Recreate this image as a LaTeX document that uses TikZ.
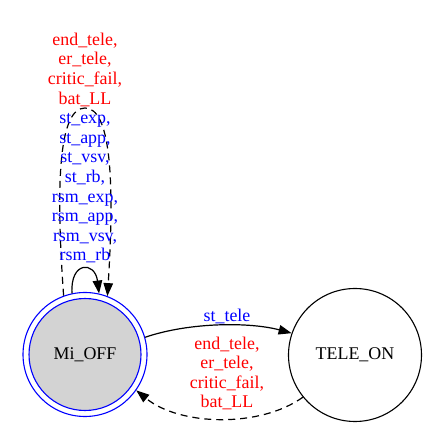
\documentclass[tikz,border=0pt]{standalone}
\usepackage{fontspec}
\setmainfont{Liberation Serif}
\usetikzlibrary{arrows.meta}
\definecolor{gvred}{RGB}{255,0,0}
\definecolor{gvblue}{RGB}{0,0,255}
\definecolor{gvgray}{RGB}{211,211,211}
\begin{document}
\begin{tikzpicture}[x=1pt,y=1pt,
  every node/.style={font=\fontsize{17.9}{19.6}\selectfont},
  edge/.style={line width=1.2pt,-{Triangle[length=13pt,width=9.5pt]}},
  dashedge/.style={edge,dash pattern=on 7pt off 5pt},
  lbl/.style={align=center,inner sep=0pt}]
\useasboundingbox (0,0) rectangle (426,426);
% Mi_OFF state (double circle)
\node[circle,draw=gvblue,line width=1.1pt,minimum size=124pt,inner sep=0pt] (off) at (85,71.5) {};
\node[circle,draw=gvblue,fill=gvgray,line width=1.1pt,minimum size=112pt,inner sep=0pt] (offin) at (85,71.5) {Mi\_OFF};
% TELE_ON state
\node[circle,draw=black,line width=1.1pt,minimum size=133pt,inner sep=0pt] (tele) at (355,71) {TELE\_ON};
% self loops
\draw[edge] (off.102) .. controls (70,165) and (95,165) .. (off.77);
\draw[dashedge] (off.110) .. controls (55,250) and (60,318) .. (85,318) .. controls (110,318) and (115,250) .. (off.69);
\node[lbl] (looplbl) at (85,278) {\textcolor{gvred}{end\_tele,}\\\textcolor{gvred}{er\_tele,}\\\textcolor{gvred}{critic\_fail,}\\\textcolor{gvred}{bat\_LL}\\\textcolor{gvblue}{st\_exp,}\\\textcolor{gvblue}{st\_app,}\\\textcolor{gvblue}{st\_vsv,}\\\textcolor{gvblue}{st\_rb,}\\\textcolor{gvblue}{rsm\_exp,}\\\textcolor{gvblue}{rsm\_app,}\\\textcolor{gvblue}{rsm\_vsv,}\\\textcolor{gvblue}{rsm\_rb}};
% transitions
\draw[edge] (off.16) .. controls (190,104) and (250,104) .. (tele.161);
\node[lbl,text=gvblue] (stlbl) at (227,110) {st\_tele};
\draw[dashedge] (tele.219) .. controls (260,-2) and (180,0) .. (off.-35);
\node[lbl,text=gvred] (retlbl) at (227,52.5) {end\_tele,\\er\_tele,\\critic\_fail,\\bat\_LL};
\end{tikzpicture}
\end{document}
